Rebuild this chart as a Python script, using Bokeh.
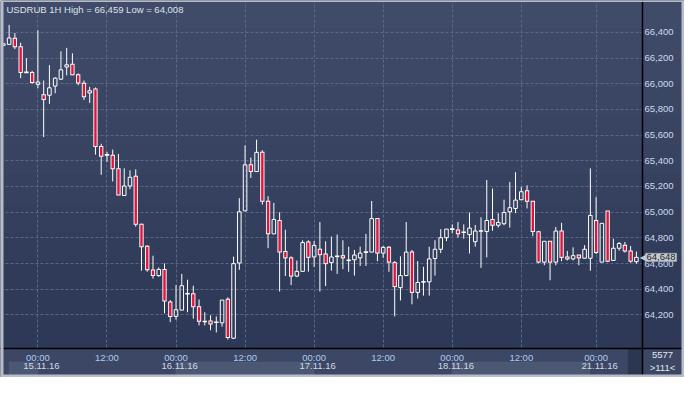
from bokeh.plotting import figure
from bokeh.models import (Range1d, LinearAxis, FixedTicker, NumeralTickFormatter,
                          BoxAnnotation, Label, ColumnDataSource)
from bokeh.embed import file_html
from bokeh.resources import INLINE

# ---------------- data (hourly candles, index 0 = 15.11.16 00:00) ----------------
idx = list(range(-6, 105))
opens = [66300, 66307, 66355, 66288, 66088, 66088,
         65996, 65914, 65911, 65982, 66036, 66131, 66153, 66071, 66004, 65929,
         65959, 65511, 65446, 65443, 65339, 65130, 65204, 65279, 64905, 64734,
         64549, 64506, 64554, 64300, 64188, 64237, 64364, 64364, 64263, 64148,
         64153, 64143, 64138, 64322, 64018, 64604, 65010, 65369, 65316, 65466,
         65085, 64831, 64935, 64693, 64644, 64502, 64539, 64768, 64651, 64711,
         64674, 64607, 64656, 64661, 64621, 64629, 64644, 64689, 64689, 64950,
         64681, 64726, 64607, 64412, 64506, 64689, 64375, 64457, 64457, 64639,
         64711, 64801, 64868, 64861, 64843, 64825, 64770, 64853, 64850, 64943,
         64898, 64910, 65003, 65029, 65097, 65167, 65085, 64848, 64611, 64773,
         64611, 64853, 64651, 64636, 64666, 64641, 64641, 64935, 64611, 65010,
         64624, 64719, 64743, 64698, 64614]
highs = [66312, 66459, 66395, 66320, 66200, 66101,
         66417, 66026, 66146, 66051, 66253, 66280, 66238, 66081, 66026, 65976,
         65971, 65533, 65470, 65488, 65453, 65341, 65326, 65334, 64910, 64743,
         64661, 64569, 64601, 64315, 64432, 64519, 64474, 64427, 64320, 64220,
         64197, 64188, 64315, 64337, 64654, 65109, 65520, 65425, 65565, 65483,
         65124, 65072, 64999, 64863, 64656, 64624, 64781, 64781, 64775, 64923,
         64773, 64810, 64826, 64781, 64731, 64706, 64731, 64831, 65087, 64950,
         64736, 64736, 64619, 64656, 64923, 64706, 64619, 64574, 64731, 64781,
         64868, 64868, 64905, 64923, 64905, 64997, 64900, 64960, 65251, 65184,
         64992, 65097, 65236, 65311, 65197, 65209, 65085, 64855, 64773, 64773,
         64885, 64917, 64698, 64726, 64666, 64743, 65341, 65117, 64913, 65010,
         64793, 64768, 64768, 64736, 64693]
lows = [66298, 66307, 66270, 66044, 66085, 66001,
        65964, 65585, 65844, 65926, 66030, 66066, 66068, 65989, 65874, 65851,
        65448, 65291, 65391, 65239, 65134, 65130, 65179, 64887, 64544, 64536,
        64482, 64497, 64212, 64143, 64162, 64237, 64220, 64170, 64118, 64118,
        64080, 64063, 64108, 64008, 64013, 64551, 65010, 65266, 65316, 65059,
        64719, 64831, 64382, 64502, 64432, 64494, 64539, 64536, 64574, 64382,
        64424, 64544, 64519, 64556, 64536, 64506, 64581, 64581, 64689, 64618,
        64644, 64536, 64188, 64312, 64506, 64282, 64327, 64350, 64350, 64506,
        64681, 64775, 64835, 64801, 64793, 64678, 64731, 64566, 64648, 64855,
        64880, 64898, 64880, 64992, 65097, 65029, 64813, 64601, 64586, 64469,
        64586, 64618, 64624, 64624, 64586, 64641, 64544, 64674, 64611, 64611,
        64624, 64700, 64686, 64606, 64599]
closes = [66312, 66357, 66288, 66088, 66090, 66011,
          66014, 65877, 65969, 66044, 66109, 66148, 66070, 66006, 65899, 65946,
          65511, 65436, 65446, 65339, 65134, 65204, 65272, 64905, 64730, 64551,
          64506, 64554, 64308, 64188, 64240, 64427, 64364, 64263, 64151, 64148,
          64128, 64143, 64315, 64024, 64599, 65003, 65369, 65316, 65466, 65085,
          64831, 64943, 64689, 64644, 64502, 64539, 64763, 64648, 64741, 64669,
          64599, 64651, 64656, 64644, 64629, 64666, 64681, 64689, 64950, 64681,
          64726, 64611, 64420, 64506, 64689, 64375, 64452, 64457, 64636, 64711,
          64801, 64868, 64868, 64831, 64843, 64876, 64853, 64853, 64935, 64898,
          64920, 64997, 65035, 65094, 65159, 65085, 64850, 64611, 64773, 64611,
          64853, 64648, 64636, 64661, 64644, 64711, 64975, 64686, 64913, 64618,
          64719, 64756, 64698, 64618, 64648]

time_ticks = [0, 12, 24, 36, 48, 60, 72, 84, 97]
time_labels = ["00:00", "12:00", "00:00", "12:00", "00:00", "12:00", "00:00", "12:00", "00:00"]
date_ticks = [0, 24, 48, 72, 97]
date_labels = ["15.11.16", "16.11.16", "17.11.16", "18.11.16", "21.11.16"]
date_boxes = [(-5, 0), (24, 48), (72, 95.9)]
price_ticks = [64200, 64400, 64600, 64800, 65000, 65200, 65400, 65600, 65800, 66000, 66200, 66400]
title_text = "USDRUB 1H High = 66,459 Low = 64,008"
last_price = 64648
bar_count = ">111<"
extra_text = "5577"

# ---------------- layout / styling ----------------
W, H = 684, 377
FONT = "Liberation Sans"
FS = "9.5px"
RED = "#e3133d"
WHITE = "#ffffff"
BW = 0.62
X0, X1 = -6.50, 112.36        # visible index range (whole canvas)
Y0, Y1 = 63712, 66649         # visible price range (whole canvas)
XSEP = 105.06                 # right axis separator (index units)
YSEP = 63936                  # bottom axis separator (price units)
UPX = (Y1 - Y0) / H           # price units per pixel

p = figure(width=W, height=H, x_range=Range1d(X0, X1), y_range=Range1d(Y0, Y1),
           output_backend="svg", toolbar_location=None, y_axis_location="right",
           min_border=0, min_border_left=0, min_border_right=0, min_border_top=0,
           min_border_bottom=0, background_fill_color="#36425f",
           border_fill_color="#36425f", outline_line_color=None)

# grid (dashed)
p.xgrid.ticker = FixedTicker(ticks=time_ticks)
p.ygrid.ticker = FixedTicker(ticks=price_ticks)
for g in (p.xgrid, p.ygrid):
    g.grid_line_color = "#5b6885"
    g.grid_line_dash = "3 2"
    g.grid_line_width = 1
    g.level = "underlay"

# background gradient bands: chart area (under grid) and price-axis area (over grid)
band_cols = ["#3f4b69", "#3d4967", "#3c4866", "#3a4664", "#384462", "#374360",
             "#35415e", "#333f5c", "#313d5a", "#2f3b58", "#2e3a57", "#2d3956"]
nb = len(band_cols)
for k, col in enumerate(band_cols):
    top = Y1 - (Y1 - YSEP) * k / nb
    bot = Y1 - (Y1 - YSEP) * (k + 1) / nb
    p.add_layout(BoxAnnotation(top=top, bottom=bot, right=XSEP, fill_color=col,
                               fill_alpha=1, line_color=None, level="image"))
    p.add_layout(BoxAnnotation(top=top, bottom=bot, left=XSEP, fill_color=col,
                               fill_alpha=1, line_color=None, level="underlay"))

# bottom time-axis area
p.add_layout(BoxAnnotation(top=YSEP, bottom=None, fill_color="#3b4764", fill_alpha=1,
                           line_color=None, level="underlay"))
for a, b in date_boxes:
    p.add_layout(BoxAnnotation(left=a, right=b, top=H - 15.5, bottom=H - 3,
                               top_units="canvas", bottom_units="canvas",
                               fill_color="#4b5873", fill_alpha=1, line_color="#5c6883",
                               line_width=1, level="underlay"))
p.add_layout(BoxAnnotation(left=102.5, right=XSEP, top=YSEP, bottom=None,
                           fill_color="#2b3651", fill_alpha=1, line_color=None,
                           level="underlay"))

# right price axis (drawn at the separator)
ya = p.yaxis[0]
ya.fixed_location = XSEP
ya.ticker = FixedTicker(ticks=price_ticks)
ya.formatter = NumeralTickFormatter(format="0,0")
ya.axis_line_color = "black"
ya.axis_line_width = 1.5
ya.major_tick_line_color = None
ya.minor_tick_line_color = None
ya.major_tick_out = 0
ya.major_tick_in = 0
ya.major_label_standoff = 2
ya.major_label_text_color = "#cdd9f0"
ya.major_label_text_font = FONT
ya.major_label_text_font_size = FS

# bottom time axis
xa = p.xaxis[0]
xa.fixed_location = YSEP
xa.ticker = FixedTicker(ticks=time_ticks)
xa.major_label_overrides = {t: l for t, l in zip(time_ticks, time_labels)}
xa.axis_line_color = "black"
xa.axis_line_width = 1.5
xa.major_tick_line_color = None
xa.minor_tick_line_color = None
xa.major_tick_out = 0
xa.major_tick_in = 0
xa.major_label_standoff = 3
xa.major_label_text_color = "#aecaf2"
xa.major_label_text_font = FONT
xa.major_label_text_font_size = FS

# date axis
date_pos = [t + 0.62 for t in date_ticks]
da = LinearAxis(ticker=FixedTicker(ticks=date_pos), fixed_location=YSEP,
                major_label_overrides={t: l for t, l in zip(date_pos, date_labels)})
da.axis_line_color = None
da.major_tick_line_color = None
da.minor_tick_line_color = None
da.major_tick_out = 0
da.major_tick_in = 0
da.major_label_standoff = 14
da.major_label_text_align = "left"
da.major_label_text_color = "#d3dae8"
da.major_label_text_font = FONT
da.major_label_text_font_size = FS
p.add_layout(da, "below")

# ---------------- candles ----------------
red = dict(x=[], top=[], bottom=[], itop=[], ibot=[])
hol = dict(x=[], top=[], bottom=[])
crs = dict(x0=[], x1=[], y=[])
wk = dict(x=[], y0=[], y1=[])
for i, o, h, l, c in zip(idx, opens, highs, lows, closes):
    t, b = max(o, c), min(o, c)
    if abs(c - o) < 10:
        crs["x0"].append(i - 0.38); crs["x1"].append(i + 0.38); crs["y"].append((o + c) / 2)
        wk["x"].append(i); wk["y0"].append(l); wk["y1"].append(h)
        continue
    if h > t:
        wk["x"].append(i); wk["y0"].append(t); wk["y1"].append(h)
    if l < b:
        wk["x"].append(i); wk["y0"].append(l); wk["y1"].append(b)
    if c < o:
        red["x"].append(i)
        red["top"].append(t + 0.5 * UPX); red["bottom"].append(b - 0.5 * UPX)
        red["itop"].append(t - 0.5 * UPX); red["ibot"].append(min(b + 0.5 * UPX, t - 0.5 * UPX))
    else:
        hol["x"].append(i); hol["top"].append(t); hol["bottom"].append(b)

rsrc = ColumnDataSource(red)
p.segment(x0="x", y0="y0", x1="x", y1="y1", source=ColumnDataSource(wk),
          line_color=WHITE, line_width=1)
p.vbar(x="x", top="top", bottom="bottom", width=BW, source=ColumnDataSource(hol),
       fill_alpha=0, line_color=WHITE, line_width=1.0)
p.vbar(x="x", top="top", bottom="bottom", width=0.74, source=rsrc,
       fill_color=WHITE, line_color=None)
p.vbar(x="x", top="itop", bottom="ibot", width=0.42, source=rsrc,
       fill_color=RED, line_color=None)
p.segment(x0="x0", y0="y", x1="x1", y1="y", source=ColumnDataSource(crs),
          line_color=WHITE, line_width=1.6)

# ---------------- texts ----------------
p.add_layout(Label(x=6, y=3, x_units="canvas", y_units="canvas", text=title_text,
                   text_baseline="top", text_color="#dfe3ea", text_font=FONT,
                   text_font_size="9.5px"))
p.add_layout(Label(x=645, y=last_price, x_units="canvas", y_units="data",
                   text=f"{last_price:,}", text_baseline="middle", text_color="#1c1f26",
                   text_font=FONT, text_font_size=FS,
                   background_fill_color="#c7cbd3", border_line_color="#9aa1ac",
                   padding=1))
p.add_layout(Label(x=645.5, y=last_price, x_units="canvas", y_units="data",
                   text="\u25c0", text_align="right", text_baseline="middle",
                   text_color="#c7cbd3", text_font="DejaVu Sans", text_font_size="8px"))
p.add_layout(Label(x=662, y=354, x_units="canvas", y_units="canvas", text=extra_text,
                   text_align="center", text_baseline="middle", text_color="#e3e7ee",
                   text_font=FONT, text_font_size=FS))
p.add_layout(Label(x=662, y=367, x_units="canvas", y_units="canvas", text=bar_count,
                   text_align="center", text_baseline="middle", text_color="#e3e7ee",
                   text_font=FONT, text_font_size=FS))

# outer light frame
for l_, r_, t_, b_ in [(0, 3, 0, H), (W - 3, W, 0, H), (0, W, H - 3, H), (0, W, 0, 1.5)]:
    p.add_layout(BoxAnnotation(left=l_, right=r_, top=t_, bottom=b_,
                               left_units="canvas", right_units="canvas",
                               top_units="canvas", bottom_units="canvas",
                               fill_color="#b7bcc6", fill_alpha=1, line_color=None,
                               level="overlay"))

open("out.html", "w").write(file_html(p, INLINE))
